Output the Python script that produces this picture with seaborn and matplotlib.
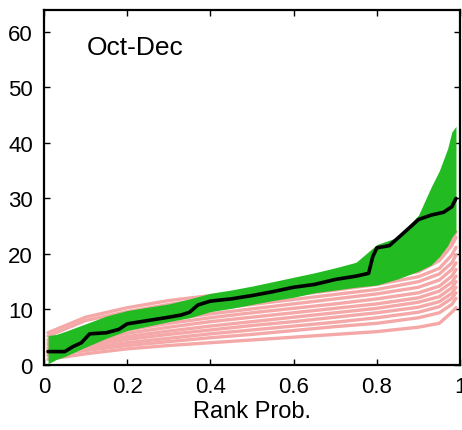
import numpy as np
import pandas as pd
import matplotlib
matplotlib.use("Agg")
import matplotlib.pyplot as plt
import seaborn as sns

# ---------------- data ----------------
# pink members (rank probability grid)
p_pink = [0.01, 0.1, 0.2, 0.3, 0.4, 0.5, 0.6, 0.7, 0.8, 0.9, 0.95, 0.98, 0.99]
pink_01 = [5.8, 8.6, 10.3, 11.6, 12.5, 13.3, 14.0, 15.0, 16.0, 17.2, 19.5, 22.5, 24.0]
pink_02 = [5.2, 8.0, 9.6, 10.9, 11.9, 12.8, 13.6, 14.6, 15.6, 16.8, 18.8, 21.5, 23.0]
pink_03 = [4.5, 6.8, 8.4, 9.7, 10.8, 11.7, 12.6, 13.5, 14.5, 15.9, 17.4, 19.8, 21.2]
pink_04 = [4.0, 6.0, 7.6, 8.9, 10.0, 10.9, 11.8, 12.7, 13.6, 15.0, 16.4, 18.4, 19.8]
pink_05 = [3.6, 5.4, 7.0, 8.2, 9.2, 10.1, 11.0, 11.9, 12.8, 14.0, 15.3, 17.2, 18.4]
pink_06 = [3.1, 4.8, 6.3, 7.5, 8.5, 9.4, 10.2, 11.0, 11.9, 13.0, 14.2, 16.0, 17.2]
pink_07 = [2.8, 4.3, 5.7, 6.8, 7.8, 8.6, 9.4, 10.2, 11.0, 12.1, 13.3, 14.9, 16.0]
pink_08 = [2.5, 3.9, 5.1, 6.1, 7.0, 7.8, 8.6, 9.4, 10.2, 11.3, 12.3, 13.9, 15.0]
pink_09 = [2.2, 3.4, 4.6, 5.5, 6.3, 7.1, 7.8, 8.6, 9.4, 10.4, 11.4, 12.9, 14.0]
pink_10 = [1.9, 3.0, 4.0, 4.8, 5.6, 6.3, 7.0, 7.7, 8.5, 9.5, 10.5, 12.0, 13.0]
pink_11 = [1.6, 2.6, 3.5, 4.2, 4.9, 5.5, 6.2, 6.9, 7.5, 8.5, 9.4, 10.9, 12.0]
pink_12 = [1.0, 2.0, 2.9, 3.5, 4.0, 4.5, 5.0, 5.5, 6.0, 6.8, 7.5, 9.5, 10.3]
pink_members = [pink_01, pink_02, pink_03, pink_04, pink_05, pink_06,
                pink_07, pink_08, pink_09, pink_10, pink_11, pink_12]

# green ensemble envelope
p_green = [0.01, 0.03, 0.05, 0.1, 0.15, 0.2, 0.25, 0.3, 0.35, 0.4, 0.45, 0.5,
           0.55, 0.6, 0.65, 0.7, 0.75, 0.8, 0.85, 0.9, 0.93, 0.95, 0.97, 0.98, 0.99]
green_upper = [5.3, 5.5, 6.0, 7.4, 8.8, 9.8, 10.4, 11.0, 11.9, 12.9, 13.5, 14.2,
               15.0, 15.8, 16.6, 17.5, 18.5, 21.7, 23.0, 27.0, 32.0, 35.0, 39.0, 42.0, 43.0]
green_lower = [0.2, 1.0, 1.5, 3.2, 4.8, 6.2, 7.0, 7.8, 8.5, 9.6, 10.2, 10.9,
               11.6, 12.2, 13.0, 13.5, 14.0, 14.4, 15.5, 16.9, 18.0, 19.5, 21.5, 23.0, 24.0]

# observed (black)
p_obs = [0.01, 0.05, 0.07, 0.09, 0.11, 0.15, 0.18, 0.2, 0.25, 0.3, 0.33, 0.35, 0.37,
         0.4, 0.45, 0.5, 0.55, 0.6, 0.65, 0.7, 0.75, 0.78, 0.79, 0.8, 0.83, 0.86,
         0.9, 0.93, 0.96, 0.98, 0.99]
obs = [2.4, 2.4, 3.3, 4.0, 5.6, 5.8, 6.4, 7.4, 8.0, 8.6, 9.0, 9.5, 10.8,
       11.5, 11.9, 12.5, 13.2, 14.0, 14.5, 15.4, 16.0, 16.5, 19.5, 21.1, 21.5, 23.5,
       26.2, 27.0, 27.5, 28.5, 30.0]

x_ticks = [0, 0.2, 0.4, 0.6, 0.8, 1.0]
x_ticklabels = ["0", "0.2", "0.4", "0.6", "0.8", "1"]
y_ticks = [0, 10, 20, 30, 40, 50, 60]

# ---------------- plot ----------------
sns.set_style("ticks")
plt.rcParams["font.family"] = ["Liberation Sans", "DejaVu Sans"]

fig = plt.figure(figsize=(4.62, 4.31), dpi=100)
ax = fig.add_axes([0.095, 0.151, 0.901, 0.824])

pink_df = pd.DataFrame({
    "p": np.tile(p_pink, len(pink_members)),
    "v": np.concatenate(pink_members),
    "m": np.repeat(np.arange(len(pink_members)), len(p_pink)),
})
sns.lineplot(data=pink_df, x="p", y="v", units="m", estimator=None,
             color="#f5a8a8", lw=2.4, ax=ax, legend=False)

ax.fill_between(p_green, green_lower, green_upper,
                color="#22bb22", lw=0, zorder=3)

obs_df = pd.DataFrame({"p": p_obs, "v": obs})
sns.lineplot(data=obs_df, x="p", y="v", color="black", lw=2.6, ax=ax, zorder=4)

ax.set_xlim(0, 1)
ax.set_ylim(0, 64)
ax.set_xticks(x_ticks)
ax.set_xticklabels(x_ticklabels)
ax.set_yticks(y_ticks)
ax.tick_params(direction="in", length=4, width=1, labelsize=16,
               top=True, right=True, colors="black")
ax.tick_params(axis="y", pad=8)
ax.tick_params(axis="x", pad=8)
for s in ax.spines.values():
    s.set_linewidth(1.6)
    s.set_color("black")
ax.set_xlabel("Rank Prob.", fontsize=17, labelpad=2, color="black")
ax.set_ylabel("")
ax.text(0.103, 57.3, "Oct-Dec", fontsize=19, va="center", ha="left", color="black")

fig.savefig("out.png", dpi=100)
